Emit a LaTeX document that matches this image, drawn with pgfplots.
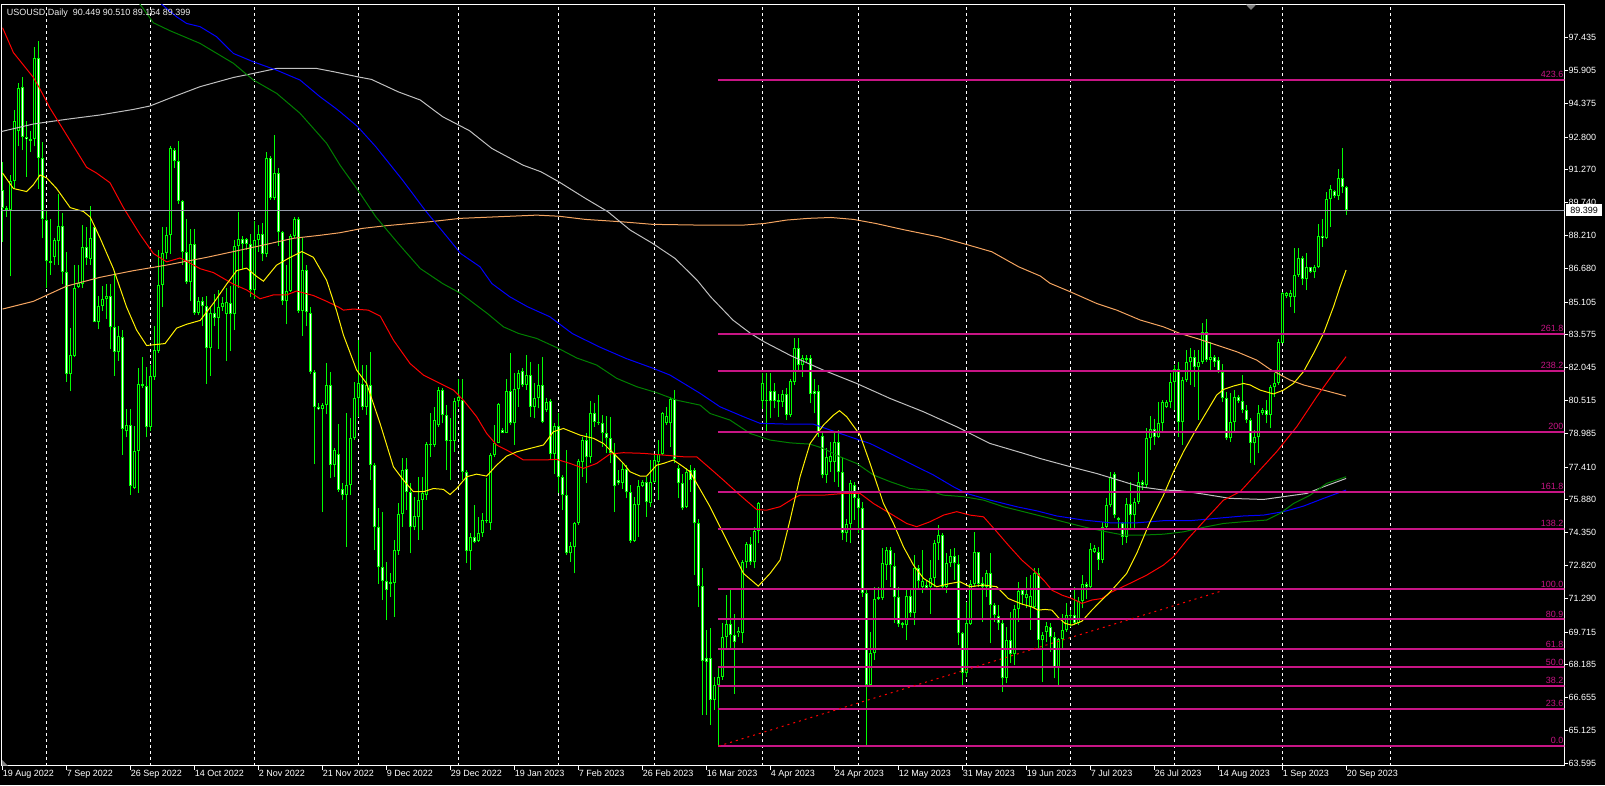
\documentclass[border=0pt]{standalone}
\usepackage{pgfplots}
\usepackage{pgfplotstable}
\usepackage{fontspec}
\setmainfont{Liberation Sans}
\pgfplotsset{compat=1.18}

\definecolor{candlegreen}{RGB}{0,255,0}
\definecolor{fibc}{RGB}{199,21,133}
\definecolor{sandy}{RGB}{244,164,96}
\definecolor{silverc}{RGB}{192,192,192}
\definecolor{bidc}{RGB}{150,156,170}
\definecolor{dkgreen}{RGB}{0,128,0}

\newcommand\chartfont{\fontsize{9}{10}\selectfont}
\tikzset{fiblab/.style={anchor=south east, text=fibc, font=\chartfont, inner sep=0pt, yshift=2pt}}
\newcommand\segplot[2]{\edef\tmp{\noexpand\addplot[#1] coordinates {#2};}\tmp}

% daily bars: index, open, high, low, close
\pgfplotstableread{
i o h l c
0 90.31 91.65 87.91 89.51
1 89.42 89.60 89.07 89.51
2 89.39 91.03 86.30 90.76
3 90.76 94.06 90.40 93.53
4 93.08 95.31 92.37 95.08
5 95.13 95.58 92.19 92.81
6 92.81 93.53 90.94 92.69
7 92.63 93.08 92.10 92.72
8 92.72 97.01 92.37 96.47
9 96.47 97.28 90.40 91.83
10 91.83 92.55 88.08 88.98
11 88.94 89.33 85.76 87.01
12 87.01 88.98 86.39 86.92
13 87.23 88.08 86.83 87.99
14 87.94 90.14 86.83 88.67
15 88.67 89.24 85.94 86.53
16 86.53 87.46 81.39 81.75
17 81.75 83.89 80.94 82.64
18 82.59 86.83 82.55 85.76
19 85.82 86.83 85.76 85.98
20 85.94 88.71 85.76 87.69
21 87.69 88.62 86.83 87.16
22 87.10 89.60 86.83 88.08
23 88.62 88.71 84.16 84.19
24 84.19 85.41 83.83 84.91
25 84.91 85.85 84.69 85.23
26 85.23 85.94 84.33 85.37
27 85.37 85.94 82.91 83.92
28 83.92 86.57 81.66 82.78
29 82.80 83.98 82.37 83.50
30 83.48 83.80 77.99 79.19
31 79.07 80.14 78.80 79.39
32 79.39 80.14 76.12 76.52
33 76.45 79.34 76.39 78.18
34 78.18 82.01 76.21 81.30
35 81.30 82.55 81.12 81.21
36 81.21 82.10 78.80 79.30
37 79.30 82.19 79.07 81.66
38 81.62 83.98 81.48 82.87
39 82.82 87.55 82.73 85.91
40 85.91 88.62 84.87 87.41
41 87.41 88.62 87.10 88.23
42 88.23 92.37 87.37 92.31
43 92.22 92.28 91.38 91.69
44 91.69 92.63 89.69 89.81
45 89.81 89.87 86.83 87.46
46 87.46 88.98 85.94 86.03
47 86.03 88.53 85.14 87.82
48 87.82 88.53 84.51 84.60
49 84.60 85.32 84.51 85.17
50 85.17 85.32 83.98 84.91
51 84.91 85.41 81.30 82.94
52 82.94 84.87 81.66 84.60
53 84.60 85.49 83.98 84.37
54 84.37 85.67 82.91 84.87
55 84.87 85.32 84.69 85.08
56 84.55 85.76 82.37 85.10
57 85.08 85.85 82.82 84.55
58 84.55 87.99 83.80 87.73
59 87.73 89.30 85.76 88.03
60 88.03 88.17 86.66 87.82
61 88.03 88.08 87.55 87.82
62 87.82 88.26 85.32 85.67
63 85.67 88.89 85.23 87.99
64 87.99 88.71 87.46 88.26
65 88.26 88.80 87.01 87.37
66 87.37 92.10 87.19 91.83
67 91.83 91.92 89.87 89.96
68 89.96 92.90 89.87 91.12
69 91.12 91.38 87.73 88.35
70 88.35 88.44 84.96 85.14
71 85.14 86.83 84.07 85.64
72 85.64 88.26 85.58 88.17
73 88.17 89.07 88.08 88.98
74 88.98 89.07 84.60 84.69
75 84.69 88.08 83.53 86.62
76 86.62 86.83 83.98 84.66
77 84.60 84.87 81.75 81.84
78 81.84 81.92 77.55 80.23
79 80.23 80.41 80.05 80.12
80 80.14 80.41 75.32 80.32
81 80.32 82.28 79.87 81.25
82 81.25 81.86 76.88 77.50
83 77.50 78.28 76.96 78.20
84 78.00 79.40 76.26 76.34
85 76.41 76.65 75.87 76.10
86 76.10 79.91 73.69 76.57
87 76.57 79.68 76.10 78.75
88 78.75 81.39 78.67 80.61
89 80.61 83.33 79.76 81.31
90 81.27 82.17 80.07 80.22
91 80.22 82.17 79.83 81.23
92 81.23 82.79 76.80 77.50
93 77.50 77.58 73.54 74.60
94 74.60 75.48 71.98 72.73
95 72.73 75.33 71.21 72.09
96 72.09 73.00 70.27 71.67
97 72.05 72.45 71.36 71.98
98 72.01 74.01 70.43 73.54
99 73.51 75.72 73.31 75.22
100 75.22 77.81 74.63 77.27
101 77.30 77.81 75.40 76.26
102 76.26 76.65 73.38 74.60
103 74.60 76.03 74.47 75.12
104 75.09 76.96 74.01 75.87
105 75.87 76.96 74.47 76.18
106 76.13 78.59 75.87 78.48
107 78.48 79.91 77.89 78.44
108 78.44 80.22 78.36 79.60
109 79.37 81.16 79.29 81.00
110 81.00 81.08 79.45 79.83
111 79.83 80.30 77.27 78.64
112 78.64 79.68 76.80 78.67
113 78.64 80.61 78.12 80.49
114 80.49 81.54 80.22 80.69
115 80.53 81.54 76.80 77.19
116 77.19 77.27 72.92 73.51
117 73.51 74.32 72.61 74.13
118 74.13 75.64 73.85 73.91
119 73.97 75.09 73.93 74.32
120 74.32 75.25 74.16 74.94
121 74.89 76.88 74.78 74.94
122 74.81 78.05 74.47 77.97
123 77.97 79.37 77.89 78.54
124 78.54 80.38 78.51 80.33
125 79.13 79.21 78.98 79.01
126 79.01 81.54 78.98 80.95
127 80.95 82.71 79.37 79.45
128 79.45 81.78 78.44 81.03
129 81.03 81.93 80.22 81.78
130 81.90 82.01 81.16 81.23
131 81.23 82.63 81.00 81.70
132 81.70 82.32 79.76 80.22
133 80.22 81.31 79.68 80.61
134 80.61 82.24 80.15 81.23
135 81.23 82.55 79.45 79.52
136 80.07 80.61 79.99 80.43
137 80.49 80.57 77.74 78.02
138 78.02 79.45 77.11 79.32
139 79.32 79.91 76.18 76.96
140 76.96 77.04 75.40 76.10
141 76.13 78.20 73.31 73.38
142 73.38 73.93 73.00 73.72
143 73.69 74.86 72.45 74.78
144 74.78 77.77 74.70 77.70
145 77.66 78.82 76.96 78.67
146 78.67 78.98 76.65 77.86
147 77.86 80.50 77.58 79.94
148 79.94 80.38 79.29 79.52
149 79.45 80.77 79.37 79.52
150 79.45 79.83 78.36 79.01
151 79.01 79.79 78.05 78.75
152 78.75 79.76 77.58 78.05
153 78.05 78.51 75.33 76.52
154 76.80 77.27 76.57 76.65
155 76.68 77.58 76.41 77.30
156 77.30 77.50 75.95 76.23
157 76.23 76.57 73.88 73.97
158 73.97 76.03 73.93 75.68
159 75.64 76.80 74.16 76.52
160 76.52 76.80 76.46 76.73
161 76.73 76.96 75.09 75.79
162 75.75 77.73 75.56 76.73
163 76.73 77.97 76.65 77.74
164 77.66 78.67 75.87 78.02
165 78.02 79.99 77.97 79.91
166 79.45 80.22 79.37 79.79
167 79.45 80.69 78.36 80.58
168 80.58 81.00 77.58 77.77
169 77.35 77.50 75.95 76.65
170 76.65 77.11 75.40 75.48
171 75.56 77.35 75.48 77.19
172 77.27 77.50 76.26 76.80
173 77.27 77.35 72.37 74.78
174 74.78 75.01 70.90 71.87
175 71.87 72.68 65.84 68.36
176 68.49 69.81 65.84 68.33
177 68.49 69.89 65.37 66.54
178 66.54 67.63 66.08 67.24
179 67.24 68.10 64.40 67.63
180 67.63 70.12 67.48 69.50
181 69.50 71.44 68.87 70.09
182 70.09 71.75 68.95 69.57
183 69.57 70.58 66.85 69.26
184 69.65 69.96 69.50 69.78
185 69.68 73.07 69.19 72.99
186 72.99 73.93 72.68 73.82
187 73.82 74.16 72.84 72.99
188 72.96 74.62 72.68 74.42
189 74.42 75.79 73.85 75.75
190 80.50 81.78 80.10 81.31
191 80.53 81.78 78.98 80.47
192 80.95 81.78 79.68 80.47
193 80.95 81.31 80.15 80.50
194 80.46 80.84 79.76 80.53
195 80.46 81.00 80.22 80.81
196 80.81 81.08 79.60 79.83
197 79.83 81.54 79.76 81.42
198 81.39 83.41 81.23 82.94
199 82.94 83.41 81.93 82.17
200 82.17 82.63 81.62 82.51
201 82.40 82.63 82.32 82.48
202 82.48 82.63 80.38 80.81
203 80.95 81.50 79.91 80.81
204 80.95 81.23 78.82 78.98
205 78.85 78.98 76.88 77.04
206 77.04 78.28 76.65 77.86
207 77.66 78.59 77.19 77.92
208 77.66 79.06 76.73 78.56
209 78.56 79.14 76.49 77.19
210 77.19 77.89 74.00 74.35
211 74.35 75.01 73.93 74.75
212 74.75 76.83 73.85 76.65
213 76.57 76.73 74.94 75.99
214 75.99 76.18 74.32 75.51
215 75.48 75.79 71.36 71.52
216 71.52 71.75 64.45 67.24
217 67.24 69.73 67.16 68.72
218 68.72 71.83 68.41 71.28
219 71.28 71.83 71.21 71.36
220 71.31 73.62 71.21 72.92
221 72.84 73.69 72.14 73.54
222 73.54 73.69 71.83 72.84
223 72.81 73.38 70.12 71.33
224 71.33 71.83 69.96 70.09
225 70.04 70.20 69.89 70.12
226 70.04 71.70 69.34 71.39
227 71.39 71.75 70.43 70.61
228 70.61 73.31 70.04 72.71
229 72.71 72.84 71.67 72.11
230 71.83 73.54 71.52 72.09
231 71.91 72.14 71.67 71.75
232 71.83 73.07 70.58 72.25
233 72.25 74.00 71.83 73.88
234 73.85 74.70 73.07 74.24
235 74.24 74.32 71.67 71.83
236 71.83 73.38 71.52 72.92
237 72.92 73.57 72.76 73.26
238 73.26 73.62 72.14 72.92
239 72.87 73.31 69.11 69.65
240 69.65 69.73 67.16 67.82
241 67.79 71.13 67.63 70.12
242 70.09 72.14 70.04 71.95
243 71.95 74.39 71.83 73.43
244 73.43 73.46 71.83 71.98
245 72.01 72.29 70.20 71.83
246 71.83 72.61 71.36 72.48
247 72.48 73.38 69.19 70.97
248 70.97 71.05 70.20 70.51
249 70.47 70.97 69.81 70.12
250 70.12 70.27 66.93 67.55
251 67.55 69.96 67.32 69.34
252 69.34 70.66 68.25 68.67
253 68.67 70.97 68.17 70.77
254 70.77 72.06 70.19 71.63
255 71.67 71.75 70.97 71.44
256 71.31 72.29 70.82 71.47
257 70.89 72.37 69.81 71.39
258 70.89 72.68 70.82 72.45
259 72.45 72.68 68.95 69.34
260 69.34 69.73 67.40 69.56
261 69.73 70.19 69.26 69.99
262 69.96 70.12 68.80 69.50
263 69.50 69.73 67.55 68.02
264 68.02 69.42 67.16 69.37
265 69.37 70.58 68.95 69.81
266 69.81 71.05 69.73 70.51
267 70.46 70.74 69.96 70.51
268 70.51 71.83 70.04 70.12
269 70.12 71.36 70.05 71.16
270 71.16 72.37 70.82 71.98
271 71.98 72.06 71.28 71.80
272 71.80 73.85 71.67 73.57
273 73.46 73.77 73.38 73.62
274 73.46 73.69 72.61 73.07
275 73.07 74.86 72.92 74.63
276 74.63 75.95 74.55 75.64
277 75.64 77.19 75.56 76.96
278 77.11 77.19 75.02 75.17
279 75.02 75.09 74.55 74.94
280 74.78 74.86 73.77 74.16
281 74.16 75.95 73.85 75.71
282 75.71 76.73 74.47 75.17
283 75.17 75.95 74.55 75.79
284 75.79 77.19 75.71 76.73
285 76.73 76.80 76.34 76.57
286 76.57 79.21 76.42 78.75
287 78.75 79.79 78.20 79.17
288 79.17 79.63 78.44 78.82
289 78.82 80.46 78.75 79.45
290 79.45 80.53 79.06 80.46
291 80.22 80.53 80.15 80.46
292 80.46 81.78 80.15 81.39
293 81.39 82.17 80.07 81.97
294 81.97 82.32 78.83 79.52
295 79.52 81.62 78.44 81.47
296 81.47 82.87 81.39 82.29
297 82.29 82.94 81.23 82.56
298 82.56 82.87 81.16 82.06
299 82.06 82.87 79.60 82.32
300 82.32 84.11 82.24 83.69
301 83.69 84.30 82.32 82.40
302 82.40 83.25 81.86 82.56
303 82.56 82.63 82.09 82.32
304 82.40 82.56 81.78 81.86
305 81.86 82.24 80.46 80.61
306 80.61 80.92 78.67 78.75
307 78.75 80.85 78.59 79.53
308 79.53 81.00 79.06 80.69
309 80.69 80.77 80.38 80.50
310 80.50 81.70 79.91 80.07
311 80.07 80.30 79.45 79.60
312 79.60 79.68 77.58 78.55
313 78.51 79.14 77.50 78.79
314 78.79 80.30 78.05 79.91
315 79.91 80.15 79.84 80.07
316 80.07 80.54 79.45 79.84
317 79.84 81.24 79.21 81.13
318 81.13 81.78 80.69 81.34
319 81.34 83.36 81.24 83.26
320 83.21 85.59 83.18 85.51
321 85.38 85.59 85.28 85.54
322 85.35 85.66 84.89 85.55
323 85.35 87.61 84.58 86.36
324 86.36 87.61 86.29 87.14
325 87.14 87.25 85.90 86.16
326 86.16 87.38 85.66 86.72
327 86.72 86.75 86.44 86.52
328 86.52 86.83 86.21 86.72
329 86.72 88.74 86.68 88.18
330 88.18 88.96 87.69 88.07
331 88.07 90.25 88.03 89.89
332 89.89 90.56 88.62 90.39
333 90.28 90.33 89.94 90.05
334 90.05 91.29 89.86 90.90
335 90.90 92.27 90.17 90.45
336 90.449 90.510 89.164 89.399
}\candles

% turn each bar into segments: wick, green body, inner fill (1px = 0.0466)
\def\wickpts{}\def\bodypts{}\def\bullpts{}\def\bearpts{}
\pgfplotstablegetrowsof{\candles}
\pgfmathtruncatemacro\lastrow{\pgfplotsretval-1}
\pgfplotsforeachungrouped \r in {0,...,\lastrow}{%
  \pgfplotstablegetelem{\r}{i}\of\candles\let\ci\pgfplotsretval
  \pgfplotstablegetelem{\r}{o}\of\candles\let\co\pgfplotsretval
  \pgfplotstablegetelem{\r}{h}\of\candles\let\ch\pgfplotsretval
  \pgfplotstablegetelem{\r}{l}\of\candles\let\cl\pgfplotsretval
  \pgfplotstablegetelem{\r}{c}\of\candles\let\cc\pgfplotsretval
  \xdef\wickpts{\wickpts(\ci,\cl)(\ci,\ch)(\ci,nan)}%
  \pgfmathsetmacro\bmax{max(\co,\cc)}%
  \pgfmathsetmacro\bmin{min(\co,\cc)}%
  \ifdim\dimexpr\bmax pt-\bmin pt\relax<0.047pt
    \pgfmathsetmacro\bmid{(\bmax+\bmin)/2}%
    \pgfmathsetmacro\bmax{\bmid+0.0234}%
    \pgfmathsetmacro\bmin{\bmid-0.0234}%
  \fi
  \xdef\bodypts{\bodypts(\ci,\bmin)(\ci,\bmax)(\ci,nan)}%
  \pgfmathsetmacro\itop{\bmax-0.0466}%
  \pgfmathsetmacro\ibot{\bmin+0.0466}%
  \ifdim\itop pt>\ibot pt
    \ifdim\co pt>\cc pt
      \xdef\bearpts{\bearpts(\ci,\ibot)(\ci,\itop)(\ci,nan)}%
    \else
      \xdef\bullpts{\bullpts(\ci,\ibot)(\ci,\itop)(\ci,nan)}%
    \fi
  \fi
}

\begin{document}
\begin{tikzpicture}
\fill[black] (0,0) rectangle (1605pt,785pt);
\begin{axis}[
  at={(1.7pt,19.3pt)}, anchor=south west,
  scale only axis, width=1562.6pt, height=761pt,
  xmin=-0.225, xmax=390.4, ymin=63.483, ymax=98.974,
  axis line style={white, line width=1pt},
  tick align=outside, major tick length=4pt,
  tick style={white, line width=1pt},
  xtick pos=left, ytick pos=right, yticklabel pos=right,
  xtick={0,16,...,336},
  xticklabels={19 Aug 2022, 7 Sep 2022, 26 Sep 2022, 14 Oct 2022, 2 Nov 2022, 21 Nov 2022, 9 Dec 2022, 29 Dec 2022, 19 Jan 2023, 7 Feb 2023, 26 Feb 2023, 16 Mar 2023, 4 Apr 2023, 24 Apr 2023, 12 May 2023, 31 May 2023, 19 Jun 2023, 7 Jul 2023, 26 Jul 2023, 14 Aug 2023, 1 Sep 2023, 20 Sep 2023},
  ytick={63.595,65.125,66.655,68.185,69.715,71.290,72.820,74.350,75.880,77.410,78.985,80.515,82.045,83.575,85.105,86.680,88.210,89.740,91.270,92.800,94.375,95.905,97.435},
  yticklabels={63.595,65.125,66.655,68.185,69.715,71.290,72.820,74.350,75.880,77.410,78.985,80.515,82.045,83.575,85.105,86.680,88.210,89.740,91.270,92.800,94.375,95.905,97.435},
  tick label style={font=\chartfont, text=white},
  xticklabel style={anchor=north west, inner sep=0pt},
  yticklabel style={anchor=west, inner sep=0pt},
  extra x ticks={11,37,63,89,114,139,163,190,214,241,267,293,320,347},
  extra x tick labels={},
  extra x tick style={grid=major, major tick length=0pt,
    major grid style={white, line width=1pt, dash pattern=on 3pt off 3pt}},
  unbounded coords=jump,
]
% candles
\segplot{candlegreen, line width=1pt, line cap=butt}{\wickpts}
\segplot{candlegreen, line width=3pt, line cap=butt}{\bodypts}
\segplot{black, line width=1pt, line cap=butt}{\bullpts}
\segplot{white, line width=1pt, line cap=butt}{\bearpts}

% moving averages
\addplot[sandy, line width=1pt] table {
x y
0 84.78
7.7 85.14
16 85.85
24.35 86.26
32.7 86.57
41 86.83
46 87.01
51 87.19
57.7 87.46
64.35 87.73
72.7 88.08
79.35 88.22
84.35 88.34
89.9 88.54
95.5 88.66
106.7 88.85
114.5 89.01
123.4 89.08
133.5 89.16
139 89.11
145.7 88.96
154.7 88.85
162.5 88.73
175.9 88.69
184.8 88.69
190.4 88.77
196 88.93
201.5 89.01
207.1 89.05
212.7 88.96
218.3 88.77
225 88.49
233.9 88.15
240.6 87.81
247.3 87.45
254 86.75
259.4 86.32
261.85 85.98
266.85 85.59
273.5 85.04
278.5 84.73
284.35 84.27
290.2 83.95
294.35 83.64
298.5 83.41
303.5 83.10
308.5 82.79
313.5 82.40
316.85 81.97
321.85 81.47
325.2 81.24
330.2 81.00
335.85 80.72
};
\addplot[silverc, line width=1pt] table {
x y
-0.5 93.05
7.7 93.41
16 93.63
24.35 93.83
32.7 94.09
36.85 94.25
42.7 94.68
49.35 95.15
57.7 95.58
62.7 95.77
68.5 96.00
78.5 96.00
82.7 95.85
88.8 95.61
92.2 95.49
98.9 94.91
104.4 94.53
110 93.75
116.7 93.10
122.3 92.27
130.1 91.49
134.6 91.18
139 90.72
145.7 89.94
151.3 89.32
156.9 88.46
162.5 87.84
168.1 87.14
173.6 86.13
177 85.35
182.6 84.26
187 83.64
190.4 83.25
197.1 82.60
205.2 81.93
213.5 81.31
221.85 80.61
230.2 79.99
238.5 79.29
246.85 78.51
255.2 78.05
259.35 77.81
266.85 77.43
273.5 77.11
280.2 76.73
284.35 76.49
290.2 76.34
294.35 76.31
300.2 76.15
306.85 75.95
315.2 75.90
320.2 76.03
326 76.18
330.2 76.49
335.85 76.88
};
\addplot[blue, line width=1pt] table {
x y
36 99.6
38.5 99.19
43.5 98.41
46 98.10
49.35 97.95
53.5 97.48
57.7 96.70
62.7 96.31
68.5 95.92
74.35 95.46
79.35 94.68
82.7 94.22
84.35 93.98
88.8 93.28
93.3 92.35
100 90.79
105.6 89.39
111.1 88.15
114.5 87.37
119.35 86.75
122.3 85.97
126.8 85.35
131.2 84.89
136.8 84.42
142.4 83.64
149.1 83.02
155.8 82.48
162.7 82.01
166.85 81.70
171 81.23
174.35 80.85
179.35 80.22
185.2 79.76
189.35 79.45
196.85 79.41
202.7 79.41
206.85 79.14
211.85 78.82
216.85 78.51
221.85 78.05
226.85 77.58
232.7 77.04
237.7 76.49
241 76.18
246.85 75.87
253.5 75.56
258.5 75.37
263.5 75.13
270.2 74.94
276.85 74.81
283.5 74.81
290.2 74.91
296.85 74.91
303.5 75.02
310.2 75.13
315.2 75.17
320.2 75.33
325.2 75.59
330.2 75.95
335.85 76.34
};
\addplot[dkgreen, line width=1pt] table {
x y
32 99.6
34.8 98.88
37.7 98.13
41.85 97.76
49.35 97.17
57.7 96.24
62.7 95.46
68.5 94.84
74.35 93.91
81 92.51
84.35 91.49
88.8 90.33
93.3 89.08
98.9 87.84
104.4 86.67
110 85.97
114.5 85.51
121.2 84.57
125.2 83.95
129 83.64
133.5 83.41
139 82.94
143.5 82.50
148.5 82.17
153.5 81.55
158.5 81.16
163.5 80.88
168.5 80.53
174.35 80.30
176.85 79.91
181.85 79.60
186.85 78.98
191.85 78.67
196.85 78.54
201.85 78.48
205.2 78.28
209.35 77.89
213.5 77.58
217.7 77.04
221.85 76.73
226.85 76.41
231 76.34
235.2 76.10
240.2 76.03
245.2 75.87
250.2 75.56
255.2 75.33
261.85 75.02
266.85 74.78
271.85 74.55
276 74.39
280.2 74.24
285.2 74.24
290.2 74.28
295.2 74.39
300.2 74.60
305.2 74.78
310.2 74.86
316 74.94
319.35 75.25
322.7 75.71
326.85 76.10
331 76.65
335.85 76.96
};
\addplot[red, line width=1pt] table {
x y
0 97.90
2.7 96.74
7.7 95.58
9.35 95.04
11.85 94.15
16 92.90
21 91.39
23.5 91.12
26.85 90.67
30.2 89.51
34.35 88.26
37.7 87.37
41 86.98
44.35 87.16
46 87.01
49.4 86.66
52.7 86.48
57.7 85.94
61 85.67
64.35 85.26
67.7 85.44
71 85.44
73.5 85.62
77.7 85.41
81 85.14
84 84.87
85.2 84.73
87.7 84.78
91.4 84.73
94.4 84.45
97.7 83.33
101.85 82.24
105.2 81.70
109.35 81.31
112.7 81.00
115.2 80.53
118.5 79.76
121 78.98
123.5 78.44
126.85 78.12
130.2 77.74
135.2 77.74
138.5 77.77
141.85 77.58
145.2 77.35
148.5 77.58
151.85 78.02
155.2 78.08
160.2 78.05
165.2 77.97
170.2 77.89
173.5 77.89
176.85 77.35
180.2 76.80
184.35 76.10
188.5 75.43
191 75.40
194.35 75.56
197.7 75.95
199.35 76.10
205.2 76.10
210.2 76.18
214.35 76.18
217.7 75.71
221.85 75.25
226 74.78
228.5 74.63
231.85 74.86
235.2 75.17
238.5 75.33
241.85 75.17
245.2 75.09
248.5 74.40
251.4 73.77
254.8 73.07
258.1 72.53
260.6 72.06
262.3 71.67
264.8 71.44
267.3 71.28
269.8 71.05
272.3 71.21
274.8 71.28
276.85 71.55
281.85 71.99
286 72.37
290.2 72.84
292.7 73.23
296 74.00
300.2 74.86
305.2 75.87
309.35 76.26
313.5 77.11
318.5 78.13
323.5 79.29
328.5 80.69
332.7 81.78
335.85 82.56
};
\addplot[yellow, line width=1pt] table {
x y
0 91.12
2.7 90.40
6 90.26
7.7 90.58
9.35 91.03
11 90.90
13.5 90.40
16.9 89.51
20.2 89.33
21.9 89.07
24.4 88.08
27.7 86.66
31 84.87
33.5 83.80
36 83.08
40.6 83.17
43.5 83.89
46 84.07
49.4 84.25
52.7 85.05
56 85.94
58.5 86.57
61 86.69
63.5 86.30
65.2 86.08
68.5 86.83
71.9 87.19
74.8 87.46
77.7 87.19
81 86.12
83.5 84.69
85.2 83.57
88.5 81.93
91 81.31
94.35 79.45
97.7 77.42
100.2 76.80
102.7 76.26
105.2 76.26
107.7 76.41
110.2 76.37
111.85 76.13
113.5 76.41
116 76.96
118.5 77.08
121 76.99
123.5 77.50
126 77.92
128.5 78.12
131.85 78.28
135.2 78.44
137.7 79.06
140.2 79.21
144.35 78.90
147.7 78.75
150.2 78.51
152.7 78.05
155.2 77.58
156.85 77.19
159.35 76.99
161 76.99
163.5 77.50
165.2 77.58
167.7 77.74
170.2 77.42
171.85 77.19
176.85 75.56
181.85 73.69
185.2 72.45
188.9 71.86
191.85 72.45
194.35 73.07
196.85 74.94
199.35 76.96
201.85 78.51
205.2 79.37
207.7 79.83
209.2 80.04
211 79.76
214.35 78.90
216.85 77.58
220.2 75.71
222.7 74.78
225.2 73.69
227.7 72.84
230.2 72.22
233.5 71.83
236.85 71.98
239.35 72.06
241.85 71.83
245.2 71.91
248.5 71.83
251.4 71.28
254.8 71.02
257.3 70.89
258.9 70.74
260.6 70.77
262.3 70.74
263.9 70.40
265.6 70.12
267.3 70.04
269.8 70.22
272.3 70.74
274.8 71.21
276.85 71.58
281 72.45
283.5 73.38
286.85 74.86
290.2 76.10
292.7 77.19
295.2 78.13
298.5 79.21
301 79.99
303.5 80.77
305.2 81.03
307.7 81.19
310.2 81.31
311.85 81.24
314.35 81.00
317.7 80.82
320.2 81.00
322.7 81.31
325.2 81.86
327.7 82.71
330.2 83.64
332.7 84.89
334.35 85.82
335.85 86.60
};

% bid line
\addplot[bidc, line width=1pt] coordinates {(-1,89.399) (391,89.399)};

% Fibonacci levels
\addplot[fibc, line width=2pt] coordinates {(178.8,64.40) (391,64.40)};
\addplot[fibc, line width=2pt] coordinates {(178.8,66.12) (391,66.12)};
\addplot[fibc, line width=2pt] coordinates {(178.8,67.19) (391,67.19)};
\addplot[fibc, line width=2pt] coordinates {(178.8,68.07) (391,68.07)};
\addplot[fibc, line width=2pt] coordinates {(178.8,68.91) (391,68.91)};
\addplot[fibc, line width=2pt] coordinates {(178.8,70.31) (391,70.31)};
\addplot[fibc, line width=2pt] coordinates {(178.8,71.71) (391,71.71)};
\addplot[fibc, line width=2pt] coordinates {(178.8,74.51) (391,74.51)};
\addplot[fibc, line width=2pt] coordinates {(178.8,76.235) (391,76.235)};
\addplot[fibc, line width=2pt] coordinates {(178.8,79.06) (391,79.06)};
\addplot[fibc, line width=2pt] coordinates {(178.8,81.89) (391,81.89)};
\addplot[fibc, line width=2pt] coordinates {(178.8,83.62) (391,83.62)};
\addplot[fibc, line width=2pt] coordinates {(178.8,95.47) (391,95.47)};
\node[fiblab] at (axis cs:390.2,64.40) {0.0};
\node[fiblab] at (axis cs:390.2,66.12) {23.6};
\node[fiblab] at (axis cs:390.2,67.19) {38.2};
\node[fiblab] at (axis cs:390.2,68.07) {50.0};
\node[fiblab] at (axis cs:390.2,68.91) {61.8};
\node[fiblab] at (axis cs:390.2,70.31) {80.9};
\node[fiblab] at (axis cs:390.2,71.71) {100.0};
\node[fiblab] at (axis cs:390.2,74.51) {138.2};
\node[fiblab] at (axis cs:390.2,76.235) {161.8};
\node[fiblab] at (axis cs:390.2,79.06) {200};
\node[fiblab] at (axis cs:390.2,81.89) {238.2};
\node[fiblab] at (axis cs:390.2,83.62) {261.8};
\node[fiblab] at (axis cs:390.2,95.47) {423.6};

% trend line from the March low
\addplot[red, line width=1pt, dash pattern=on 2pt off 4pt] coordinates {(179,64.40) (304.35,71.61)};

\coordinate (bidR) at (axis cs:390.4,89.399);
\end{axis}
\node[fill=white, text=black, font=\chartfont, inner sep=0pt, minimum width=36pt, minimum height=12.7pt, anchor=west] at ([xshift=1.5pt]bidR) {89.399};
\node[anchor=west, text=white!88!gray, font=\chartfont, inner sep=0pt] at (6.7pt,772.3pt) {USOUSD,Daily\ \ 90.449 90.510 89.164 89.399};
\fill[gray] (1246pt,780.3pt) -- (1256pt,780.3pt) -- (1251pt,775pt) -- cycle;
\fill[gray] (2pt,19.3pt) -- (2pt,25pt) -- (8pt,19.3pt) -- cycle;
\pgfresetboundingbox
\path (0,0) rectangle (1605pt,785pt);
\end{tikzpicture}
\end{document}
